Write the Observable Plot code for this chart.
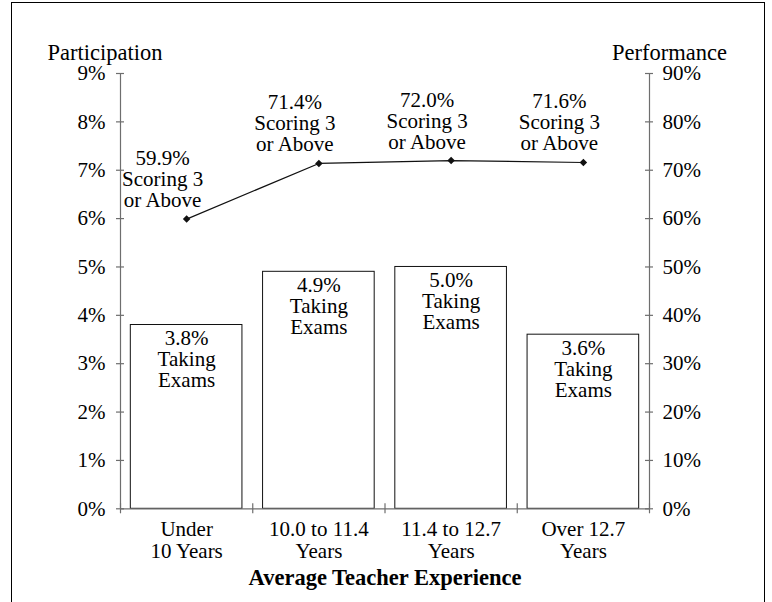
<!DOCTYPE html>
<html>
<head>
<meta charset="utf-8">
<script src="https://cdn.jsdelivr.net/npm/d3@7"></script>
<script src="https://cdn.jsdelivr.net/npm/@observablehq/plot@0.6"></script>
<style>
  html, body { margin: 0; padding: 0; background: #fff; overflow: hidden; }
  #wrap { position: relative; width: 772px; height: 602px; }
  #border { position: absolute; left: 11px; top: 2px; width: 752px; height: 700px;
            border: 1px solid #000; border-bottom: none; pointer-events: none; }
</style>
</head>
<body>
<div id="wrap"><div id="border"></div></div>
<script>
const categories = ["Under\n10 Years", "10.0 to 11.4\nYears", "11.4 to 12.7\nYears", "Over 12.7\nYears"];
const participation = [3.8, 4.9, 5.0, 3.6];
const performance = [59.9, 71.4, 72.0, 71.6];
const leftTicks = [0, 1, 2, 3, 4, 5, 6, 7, 8, 9];
const rightTickLabels = ["0%", "10%", "20%", "30%", "40%", "50%", "60%", "70%", "80%", "90%"];
const barLabelSuffix = "Taking\nExams";
const pointLabelSuffix = "Scoring 3\nor Above";

const data = categories.map((c, i) => ({
  i, category: c, part: participation[i], perf: performance[i]
}));
const boundaries = d3.range(categories.length + 1);
const gray = "#6e6e6e";
const pad = 0.078;
const font = "Liberation Serif, Times New Roman, serif";

const chart = Plot.plot({
  width: 772,
  height: 602,
  marginLeft: 120,
  marginRight: 123,
  marginTop: 73,
  marginBottom: 93.7,
  style: { fontFamily: font, fontSize: "21px", color: "#000", background: "transparent" },
  x: { type: "linear", domain: [0, categories.length], axis: null },
  y: { domain: [0, 9], axis: null },
  marks: [
    // bars
    Plot.rectY(data, { x1: d => d.i + pad, x2: d => d.i + 1 - pad, y: "part",
      fill: "white", stroke: "#111", strokeWidth: 1 }),
    // axes lines
    Plot.ruleX([0, categories.length], { stroke: gray, strokeWidth: 1.2 }),
    Plot.ruleY([0], { stroke: gray, strokeWidth: 1.2 }),
    // y ticks (crossing)
    Plot.ruleY(leftTicks, { y: d => d, x1: 0, x2: 0, insetLeft: -4, insetRight: -4, stroke: gray, strokeWidth: 1.2 }),
    Plot.ruleY(leftTicks, { y: d => d, x1: categories.length, x2: categories.length, insetLeft: -4, insetRight: -4, stroke: gray, strokeWidth: 1.2 }),
    // x boundary ticks
    Plot.ruleX(boundaries, { x: d => d, y1: 0, y2: 0, insetTop: -5, insetBottom: -5, stroke: gray, strokeWidth: 1.2 }),
    // y tick labels
    Plot.text(leftTicks, { x: 0, y: d => d, text: d => d + "%", textAnchor: "end", dx: -15, fontSize: 21 }),
    Plot.text(leftTicks, { x: categories.length, y: d => d, text: (d, i) => rightTickLabels[i], textAnchor: "start", dx: 13, fontSize: 21 }),
    // axis titles
    Plot.text(["Participation"], { frameAnchor: "top-left", lineAnchor: "middle", textAnchor: "start", dx: -73, dy: -21, fontSize: 22.5 }),
    Plot.text(["Performance"], { frameAnchor: "top-right", lineAnchor: "middle", textAnchor: "end", dx: 77.5, dy: -21, fontSize: 22.5 }),
    // line + markers (performance on 0-90% right scale)
    Plot.line(data, { x: d => d.i + 0.5, y: d => d.perf / 10, stroke: "#111", strokeWidth: 1.2 }),
    Plot.dot(data, { x: d => d.i + 0.5, y: d => d.perf / 10, symbol: "diamond2", r: 3.4, fill: "#111", stroke: "none" }),
    // point labels
    Plot.text(data, { x: d => d.i + 0.5, y: d => d.perf / 10,
      text: d => d.perf.toFixed(1) + "%\n" + pointLabelSuffix,
      lineAnchor: "bottom", lineHeight: 1, dx: -24, dy: -12, fontSize: 21 }),
    // bar labels
    Plot.text(data, { x: d => d.i + 0.5, y: "part",
      text: d => d.part.toFixed(1) + "%\n" + barLabelSuffix,
      lineAnchor: "top", lineHeight: 1, dy: 5, fontSize: 21 }),
    // category labels
    Plot.text(data, { x: d => d.i + 0.5, y: 0, text: "category",
      lineAnchor: "top", lineHeight: 1.06, dy: 11.5, fontSize: 21 }),
    // x title
    Plot.text(["Average Teacher Experience"], { frameAnchor: "bottom", lineAnchor: "middle", dy: 68.5,
      fontWeight: "bold", fontSize: 22.5 })
  ]
});
document.getElementById("wrap").prepend(chart);
</script>
</body>
</html>
